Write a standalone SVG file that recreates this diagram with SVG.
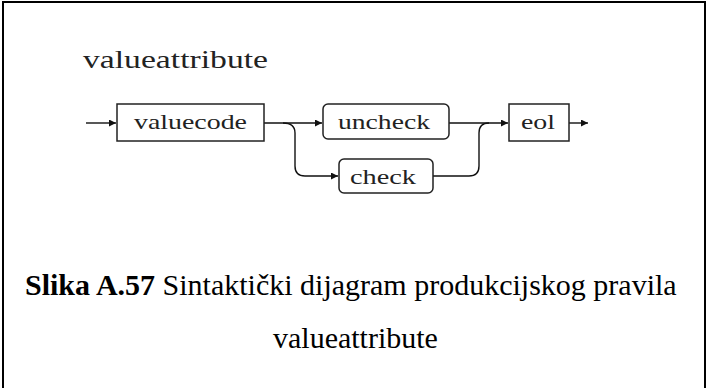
<svg xmlns="http://www.w3.org/2000/svg" width="707" height="388" viewBox="0 0 707 388">
<style>
.box{fill:#fff;stroke:#222;stroke-width:1.5}
.ln{fill:none;stroke:#111;stroke-width:1.4}
text{font-family:'Liberation Serif','Times New Roman',serif}
.lbl{font-size:22px;fill:#222}
.cap{font-size:30px;fill:#000}
</style>
<defs>
<marker id="ah" markerWidth="8" markerHeight="7" refX="7" refY="3.5" orient="auto" markerUnits="userSpaceOnUse">
<path d="M0,0 L7,3.5 L0,7 Z" fill="#111"/>
</marker>
</defs>
<rect width="707" height="388" fill="#fff"/>
<path d="M3,388 V2 H705 V388" fill="none" stroke="#000" stroke-width="2"/>
<text x="83" y="68" class="lbl" font-family="Liberation Serif, serif" style="font-size:26px" textLength="185" lengthAdjust="spacingAndGlyphs">valueattribute</text>
<g id="connectors">
<path class="ln" d="M86,123 H116" marker-end="url(#ah)"/>
<path class="ln" d="M264,123 H322" marker-end="url(#ah)"/>
<path class="ln" d="M283,123 Q295,123 295,133 V166 Q295,176 305,176 H338" marker-end="url(#ah)"/>
<path class="ln" d="M449,123 H508" marker-end="url(#ah)"/>
<path class="ln" d="M433,176 H469 Q479,176 479,166 V133 Q479,123 489,123"/>
<path class="ln" d="M569,123 H588" marker-end="url(#ah)"/>
</g>
<g id="valuecode">
<rect class="box" x="117" y="104" width="147" height="37"/>
<text x="134" y="129" class="lbl" font-family="Liberation Serif, serif" textLength="113" lengthAdjust="spacingAndGlyphs">valuecode</text>
</g>
<g id="uncheck">
<rect class="box" x="323" y="104" width="126" height="35" rx="5"/>
<text x="338" y="129" class="lbl" font-family="Liberation Serif, serif" textLength="92" lengthAdjust="spacingAndGlyphs">uncheck</text>
</g>
<g id="check">
<rect class="box" x="339" y="159" width="94" height="34" rx="5"/>
<text x="350" y="183.5" class="lbl" font-family="Liberation Serif, serif" textLength="66" lengthAdjust="spacingAndGlyphs">check</text>
</g>
<g id="eol">
<rect class="box" x="509" y="104" width="60" height="37"/>
<text x="521" y="129" class="lbl" font-family="Liberation Serif, serif" textLength="34" lengthAdjust="spacingAndGlyphs">eol</text>
</g>
<text x="25" y="295" class="cap" font-family="Liberation Serif, serif"><tspan font-weight="bold">Slika A.57</tspan> Sintaktički dijagram produkcijskog pravila</text>
<text x="273" y="348" class="cap" font-family="Liberation Serif, serif">valueattribute</text>
</svg>
